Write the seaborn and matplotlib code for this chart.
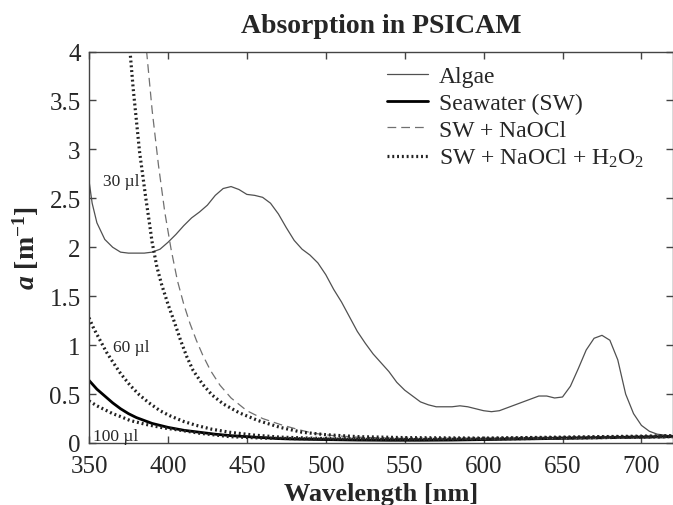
import numpy as np
import pandas as pd
import matplotlib
matplotlib.use("Agg")
import matplotlib.pyplot as plt
import seaborn as sns

# ---------------- data ----------------
algae_wl = [350, 352, 355, 360, 365, 370, 375, 380, 385, 390, 395, 400, 405, 410, 415,
            420, 425, 430, 435, 440, 445, 450, 455, 460, 465, 470, 475, 480, 485, 490,
            495, 500, 505, 510, 515, 520, 525, 530, 535, 540, 545, 550, 555, 560, 565,
            570, 575, 580, 585, 590, 595, 600, 605, 610, 615, 620, 625, 630, 635, 640,
            645, 650, 655, 660, 665, 670, 675, 680, 685, 690, 695, 700, 705, 710, 715, 720]
algae_a = [2.68, 2.45, 2.25, 2.08, 2.00, 1.95, 1.94, 1.94, 1.94, 1.95, 1.98, 2.05, 2.13,
           2.22, 2.30, 2.36, 2.43, 2.53, 2.60, 2.62, 2.59, 2.54, 2.53, 2.51, 2.45, 2.34,
           2.20, 2.07, 1.98, 1.92, 1.84, 1.72, 1.57, 1.44, 1.29, 1.14, 1.02, 0.91, 0.82,
           0.73, 0.62, 0.54, 0.48, 0.42, 0.39, 0.37, 0.37, 0.37, 0.38, 0.37, 0.35, 0.33,
           0.32, 0.33, 0.36, 0.39, 0.42, 0.45, 0.48, 0.48, 0.46, 0.47, 0.58, 0.76, 0.95,
           1.07, 1.10, 1.05, 0.85, 0.50, 0.30, 0.18, 0.12, 0.09, 0.08, 0.07]

sw_wl = [350, 355, 360, 365, 370, 375, 380, 385, 390, 395, 400, 410, 420, 430, 440, 450,
         460, 470, 480, 500, 520, 540, 560, 580, 600, 620, 640, 660, 680, 700, 720]
sw_a = [0.64, 0.55, 0.48, 0.41, 0.35, 0.30, 0.26, 0.23, 0.20, 0.18, 0.16, 0.13, 0.11,
        0.09, 0.075, 0.065, 0.055, 0.045, 0.04, 0.035, 0.03, 0.028, 0.028, 0.03, 0.035,
        0.04, 0.045, 0.05, 0.055, 0.06, 0.065]

naocl_wl = [385.5, 386.5, 390, 394, 398, 402, 406, 410, 414, 418, 422, 427, 433, 440, 450,
            460, 471, 482, 492, 505, 520, 550, 600, 650, 700, 720]
naocl_a = [4.15, 4.0, 3.40, 2.84, 2.36, 1.98, 1.66, 1.42, 1.22, 1.05, 0.90, 0.74, 0.59,
           0.46, 0.33, 0.25, 0.19, 0.14, 0.10, 0.075, 0.06, 0.045, 0.04, 0.045, 0.05, 0.055]

h2o2_30_wl = [375, 376, 378, 380, 382, 384, 386, 388, 390, 393, 396, 400, 404, 408, 412,
              416, 422, 428, 435, 445, 457, 471, 485, 500, 520, 550, 600, 650, 700, 720]
h2o2_30_a = [4.2, 4.0, 3.62, 3.30, 2.98, 2.74, 2.50, 2.28, 2.05, 1.80, 1.62, 1.42, 1.24,
             1.05, 0.88, 0.74, 0.60, 0.49, 0.40, 0.31, 0.23, 0.16, 0.11, 0.085, 0.065,
             0.055, 0.05, 0.06, 0.07, 0.075]

h2o2_60_wl = [350, 353, 357, 361, 365, 370, 376, 382, 388, 395, 401, 410, 418, 428, 439,
              455, 471, 500, 550, 600, 650, 700, 720]
h2o2_60_a = [1.28, 1.17, 1.05, 0.93, 0.83, 0.71, 0.59, 0.49, 0.41, 0.33, 0.28, 0.22, 0.18,
             0.14, 0.11, 0.08, 0.06, 0.045, 0.04, 0.045, 0.055, 0.065, 0.07]

h2o2_100_wl = [350, 355, 360, 365, 370, 376, 386, 397, 408, 420, 439, 460, 500, 550, 600,
               650, 700, 720]
h2o2_100_a = [0.43, 0.38, 0.34, 0.30, 0.27, 0.23, 0.19, 0.155, 0.13, 0.10, 0.065, 0.05,
              0.04, 0.035, 0.04, 0.05, 0.06, 0.065]

series_labels = ["Algae", "Seawater (SW)", "SW + NaOCl", "SW + NaOCl + H$_2$O$_2$"]
dose_labels = ["30 \u00b5l", "60 \u00b5l", "100 \u00b5l"]
dose_pos = [(370.5, 2.68), (377.0, 0.98), (367.0, 0.07)]

xticks = [350, 400, 450, 500, 550, 600, 650, 700]
yticks = [0, 0.5, 1, 1.5, 2, 2.5, 3, 3.5, 4]
ytick_labels = ["0", "0.5", "1", "1.5", "2", "2.5", "3", "3.5", "4"]

# ---------------- style ----------------
sns.set_style("ticks")
plt.rcParams["font.family"] = ["Liberation Serif", "DejaVu Serif"]
plt.rcParams["mathtext.fontset"] = "custom"
plt.rcParams["mathtext.rm"] = "Liberation Serif"
plt.rcParams["mathtext.it"] = "Liberation Serif:italic:bold"
plt.rcParams["mathtext.bf"] = "Liberation Serif:bold"
plt.rcParams["mathtext.default"] = "regular"

fig = plt.figure(figsize=(6.73, 5.06), dpi=100)
ax = fig.add_axes([89 / 673, 62 / 506, 584 / 673, 391.5 / 506])

dot_style = (0, (0.6, 0.9))
sns.lineplot(x=algae_wl, y=algae_a, ax=ax, color="#505050", lw=0.9, label=series_labels[0])
sns.lineplot(x=sw_wl, y=sw_a, ax=ax, color="black", lw=2.0, label=series_labels[1])
sns.lineplot(x=naocl_wl, y=naocl_a, ax=ax, color="#707070", lw=0.9, label=series_labels[2])
ax.lines[-1].set_dashes((7, 4))
sns.lineplot(x=h2o2_30_wl, y=h2o2_30_a, ax=ax, color="#222222", lw=2.3, label=series_labels[3])
ax.lines[-1].set_linestyle(dot_style)
sns.lineplot(x=h2o2_60_wl, y=h2o2_60_a, ax=ax, color="#222222", lw=2.3)
ax.lines[-1].set_linestyle(dot_style)
sns.lineplot(x=h2o2_100_wl, y=h2o2_100_a, ax=ax, color="#222222", lw=2.3)
ax.lines[-1].set_linestyle(dot_style)

for lab, (lx, ly) in zip(dose_labels, dose_pos):
    ax.text(lx, ly, lab, ha="center", va="center", fontsize=12.5)

ax.set_xlim(350, 720)
ax.set_ylim(0, 4)
ax.set_xticks(xticks)
ax.set_xticklabels([str(t) for t in xticks])
ax.set_yticks(yticks)
ax.set_yticklabels(ytick_labels)
ax.tick_params(direction="in", top=True, right=True, length=5, width=1,
               labelsize=18, color="#444444")
ax.tick_params(axis="x", pad=9)
ax.tick_params(axis="y", pad=6)
for s in ax.spines.values():
    s.set_color("#444444")
    s.set_linewidth(1)

ax.set_title("Absorption in PSICAM", fontsize=20, fontweight="bold", pad=14)
ax.set_xlabel("Wavelength [nm]", fontsize=19, fontweight="bold", labelpad=3)
ax.set_ylabel(r"$\mathit{a}$ [m$^{\mathbf{-1}}$]", fontsize=20, fontweight="bold", labelpad=6)

handles, labels = ax.get_legend_handles_labels()
leg = ax.legend(handles, labels, loc="upper left", bbox_to_anchor=(0.486, 1.0),
                frameon=False, fontsize=17, handlelength=1.75, handletextpad=0.45,
                labelspacing=0.22, borderaxespad=0.2)

fig.savefig("out.png", dpi=100)
